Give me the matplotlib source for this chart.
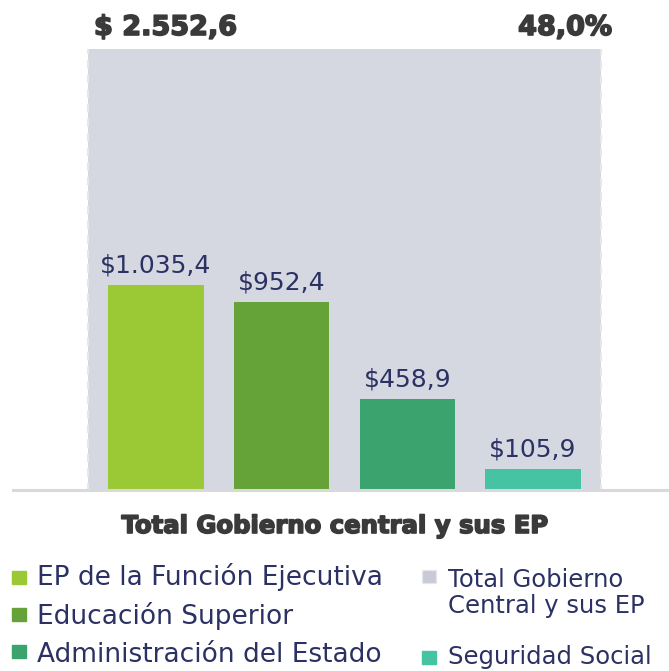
import matplotlib.pyplot as plt
import matplotlib.patheffects as pe
from matplotlib.patches import Rectangle

# data
categories = ["EP de la Función Ejecutiva", "Educación Superior",
              "Administración del Estado", "Seguridad Social"]
values = [1035.4, 952.4, 458.9, 105.9]
total_label = "Total Gobierno\nCentral y sus EP"
total_value = 2552.6
total_share = 48.0
title = "Total Gobierno central y sus EP"

bar_colors = ["#9bc935", "#65a338", "#3aa36e", "#45c3a3"]
grey = "#d5d8e1"
navy = "#2b3263"
dark = "#3a3a3a"

W, H = 669, 671


def fx(px):
    return px / W


def fy(py):
    return 1 - py / H


def fmt(v, dec=1):
    s = f"{v:,.{dec}f}"
    return s.replace(",", "X").replace(".", ",").replace("X", ".")


fig = plt.figure(figsize=(W / 100, H / 100), dpi=100)
ax = fig.add_axes([fx(13), fy(490), (W - 13) / W, (490 - 49) / H])

x = list(range(len(values)))
# grey background bar for the total
ax.bar(1.5, total_value, width=4.08, color=grey, edgecolor="#e6e7ec",
       linewidth=1.5, linestyle=(0, (4, 3)), zorder=1)
ax.bar(x, values, width=0.76, color=bar_colors, zorder=2)
ax.axhline(0, color="#d9d9d9", lw=2.2, zorder=3, clip_on=False)

for xi, v in zip(x, values):
    ax.annotate("$" + fmt(v), (xi, v), xytext=(0, 9), textcoords="offset points",
                ha="center", va="baseline", fontsize=18, color=navy)

ax.set_xlim(-1.138, 4.082)
ax.set_ylim(0, 2232)
ax.axis("off")

heavy = dict(family="DejaVu Sans", fontweight="bold", color=dark,
             path_effects=[pe.withStroke(linewidth=1.2, foreground=dark)])
fig.text(fx(94), fy(35), "$ " + fmt(total_value), ha="left", va="baseline",
         fontsize=19.5, **heavy)
fig.text(fx(612), fy(35), fmt(total_share) + "%", ha="right", va="baseline",
         fontsize=19.5, **heavy)
fig.text(fx(334), fy(533), title, ha="center", va="baseline", fontsize=17.5, **heavy)


# legend, drawn by hand
def legend_item(sx, sy, tx, ty, label, color, size, dashed=False):
    fig.add_artist(Rectangle((fx(sx), fy(sy + 7)), 14 / W, 13 / H,
                             transform=fig.transFigure, facecolor=color,
                             edgecolor="#e6e7ec" if dashed else color,
                             linestyle=(0, (2, 1)) if dashed else "-", lw=1))
    fig.text(fx(tx), fy(ty), label, ha="left", va="baseline", fontsize=size,
             color=navy, linespacing=1.1)


legend_item(12, 577, 37, 585, categories[0], bar_colors[0], 19)
legend_item(12, 614, 37, 624, categories[1], bar_colors[1], 19)
legend_item(12, 651, 37, 662, categories[2], bar_colors[2], 19)
legend_item(422, 576, 448, 613, total_label, "#c8cbd7", 17.5, dashed=True)
legend_item(422, 657, 448, 664, categories[3], bar_colors[3], 17.5)

fig.savefig("out.png", dpi=100)
